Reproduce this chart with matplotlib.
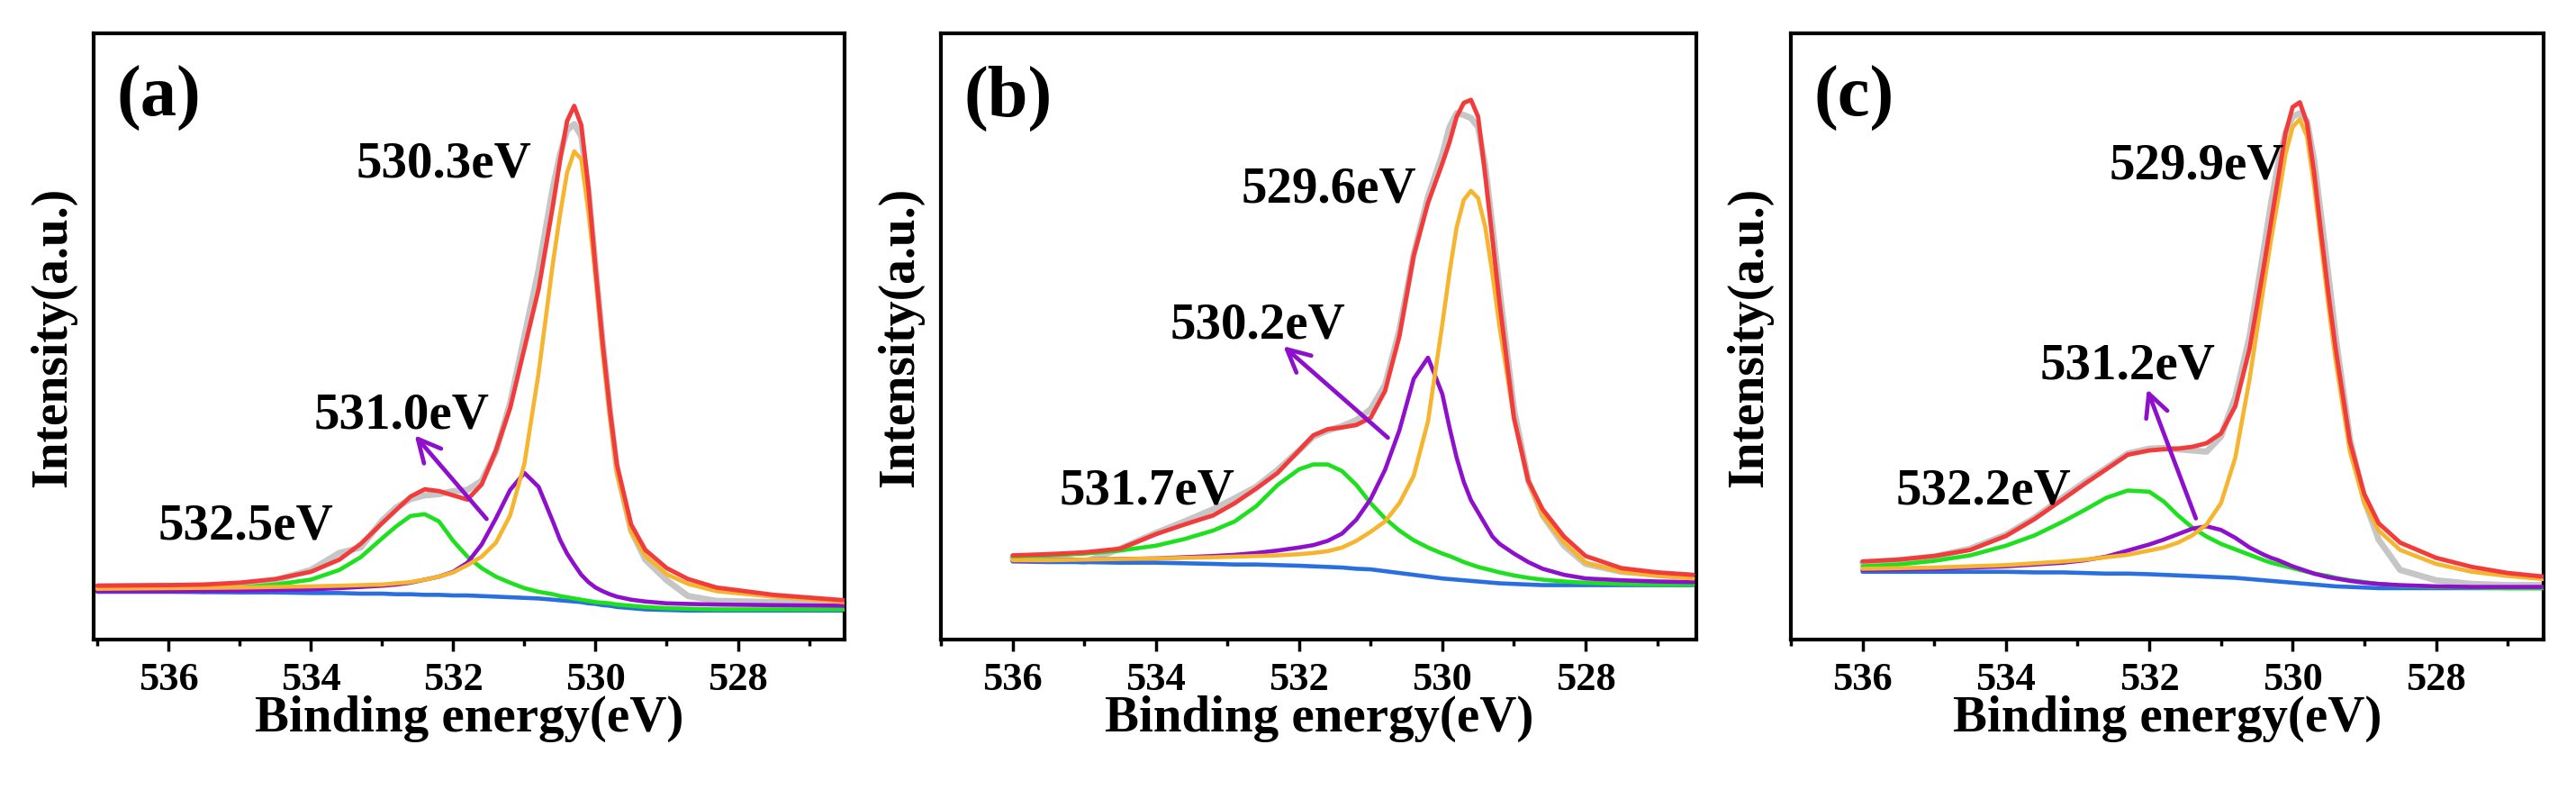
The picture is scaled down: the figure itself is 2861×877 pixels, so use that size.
"""O 1s XPS fits for three samples, recreated as a 1x3 panel figure."""
import matplotlib
matplotlib.use("Agg")
import matplotlib.pyplot as plt

plt.rcParams["font.family"] = ["Liberation Serif", "DejaVu Serif"]
plt.rcParams["font.weight"] = "bold"
plt.rcParams["lines.solid_joinstyle"] = "round"
plt.rcParams["lines.solid_capstyle"] = "round"

# Colours of the fit components.
C_RAW = "#c6c6c6"
C_SUM = "#f23c3c"
C_MAIN = "#f5b52e"
C_MID = "#8e10cc"
C_HIGH = "#1fe01f"
C_BG = "#2a6fe0"

# ---------------- panel (a) ----------------
energy_a = [537.0, 536.0, 535.5, 535.0, 534.5, 534.0, 533.6, 533.3, 533.0, 532.8,
            532.6, 532.4, 532.2, 532.0, 531.8, 531.6, 531.4, 531.2, 531.0, 530.8,
            530.6, 530.5, 530.4, 530.3, 530.2, 530.1, 530.0, 529.9, 529.8, 529.7,
            529.5, 529.3, 529.0, 528.7, 528.3, 527.5, 526.5]
raw_a = [0.088, 0.089, 0.080, 0.090, 0.098, 0.115, 0.143, 0.152, 0.196, 0.218,
         0.232, 0.238, 0.240, 0.245, 0.247, 0.262, 0.310, 0.390, 0.500, 0.610,
         0.745, 0.800, 0.840, 0.850, 0.830, 0.740, 0.615, 0.490, 0.380, 0.280,
         0.180, 0.132, 0.098, 0.072, 0.064, 0.062, 0.060]
envelope_a = [0.089, 0.090, 0.091, 0.094, 0.100, 0.112, 0.132, 0.158, 0.192, 0.214,
              0.236, 0.248, 0.245, 0.238, 0.231, 0.256, 0.312, 0.382, 0.480, 0.578,
              0.715, 0.789, 0.855, 0.880, 0.848, 0.745, 0.612, 0.489, 0.380, 0.289,
              0.190, 0.148, 0.118, 0.100, 0.086, 0.074, 0.065]
peak_main_a = [0.084, 0.085, 0.0855, 0.086, 0.087, 0.088, 0.089, 0.090, 0.091, 0.093,
               0.095, 0.099, 0.104, 0.111, 0.123, 0.137, 0.160, 0.205, 0.290, 0.440,
               0.620, 0.700, 0.770, 0.805, 0.792, 0.705, 0.600, 0.475, 0.370, 0.275,
               0.178, 0.138, 0.108, 0.092, 0.080, 0.071, 0.062]
peak_mid_a = [0.080, 0.080, 0.0805, 0.081, 0.082, 0.083, 0.085, 0.087, 0.089, 0.091,
              0.094, 0.099, 0.104, 0.112, 0.127, 0.157, 0.200, 0.247, 0.275, 0.252,
              0.195, 0.165, 0.142, 0.124, 0.107, 0.095, 0.086, 0.080, 0.075, 0.071,
              0.066, 0.063, 0.060, 0.059, 0.058, 0.057, 0.056]
peak_high_a = [0.081, 0.082, 0.084, 0.086, 0.091, 0.099, 0.115, 0.136, 0.167, 0.187,
               0.204, 0.207, 0.195, 0.163, 0.137, 0.118, 0.104, 0.094, 0.085, 0.079,
               0.075, 0.072, 0.070, 0.068, 0.066, 0.064, 0.062, 0.061, 0.060, 0.058,
               0.056, 0.054, 0.052, 0.051, 0.050, 0.050, 0.050]
background_a = [0.079, 0.079, 0.0785, 0.078, 0.078, 0.077, 0.077, 0.076, 0.076, 0.075,
                0.075, 0.074, 0.074, 0.073, 0.073, 0.072, 0.071, 0.070, 0.069, 0.068,
                0.066, 0.065, 0.064, 0.063, 0.062, 0.060, 0.059, 0.057, 0.056, 0.054,
                0.052, 0.050, 0.049, 0.048, 0.048, 0.048, 0.048]

# ---------------- panel (b) ----------------
energy_b = [536.0, 535.5, 535.0, 534.5, 534.0, 533.6, 533.2, 532.9, 532.6, 532.3,
            532.0, 531.8, 531.6, 531.4, 531.2, 531.0, 530.8, 530.6, 530.4, 530.2,
            530.0, 529.9, 529.8, 529.7, 529.6, 529.5, 529.4, 529.3, 529.2, 529.0,
            528.8, 528.6, 528.3, 528.0, 527.5, 527.0, 526.5]
raw_b = [0.135, 0.138, 0.128, 0.150, 0.176, 0.195, 0.215, 0.233, 0.252, 0.280,
         0.312, 0.335, 0.345, 0.352, 0.362, 0.380, 0.420, 0.510, 0.635, 0.730,
         0.800, 0.845, 0.868, 0.865, 0.860, 0.845, 0.780, 0.680, 0.575, 0.380,
         0.262, 0.205, 0.155, 0.125, 0.112, 0.108, 0.105]
envelope_b = [0.139, 0.141, 0.144, 0.150, 0.174, 0.190, 0.205, 0.225, 0.249, 0.275,
              0.312, 0.337, 0.347, 0.350, 0.354, 0.366, 0.410, 0.500, 0.633, 0.720,
              0.785, 0.820, 0.862, 0.885, 0.890, 0.862, 0.765, 0.660, 0.555, 0.366,
              0.262, 0.215, 0.170, 0.138, 0.118, 0.111, 0.107]
peak_main_b = [0.131, 0.131, 0.132, 0.133, 0.134, 0.135, 0.136, 0.137, 0.138, 0.139,
               0.141, 0.143, 0.146, 0.152, 0.163, 0.178, 0.195, 0.225, 0.270, 0.360,
               0.520, 0.605, 0.680, 0.725, 0.740, 0.728, 0.680, 0.603, 0.515, 0.365,
               0.262, 0.205, 0.160, 0.127, 0.112, 0.105, 0.101]
peak_mid_b = [0.130, 0.131, 0.132, 0.133, 0.134, 0.136, 0.138, 0.140, 0.143, 0.147,
              0.152, 0.156, 0.163, 0.175, 0.198, 0.232, 0.280, 0.345, 0.430, 0.465,
              0.405, 0.350, 0.300, 0.260, 0.230, 0.210, 0.190, 0.170, 0.158, 0.142,
              0.128, 0.117, 0.107, 0.101, 0.098, 0.096, 0.095]
peak_high_b = [0.137, 0.139, 0.142, 0.147, 0.155, 0.166, 0.180, 0.195, 0.220, 0.255,
               0.281, 0.289, 0.289, 0.278, 0.255, 0.225, 0.200, 0.180, 0.164, 0.152,
               0.142, 0.138, 0.133, 0.128, 0.124, 0.120, 0.117, 0.114, 0.111, 0.106,
               0.102, 0.099, 0.096, 0.094, 0.092, 0.091, 0.091]
background_b = [0.129, 0.128, 0.128, 0.127, 0.127, 0.126, 0.125, 0.124, 0.124, 0.123,
                0.122, 0.121, 0.120, 0.119, 0.117, 0.116, 0.113, 0.110, 0.107, 0.104,
                0.101, 0.100, 0.099, 0.098, 0.097, 0.096, 0.095, 0.094, 0.093, 0.092,
                0.091, 0.090, 0.090, 0.090, 0.090, 0.090, 0.090]

# ---------------- panel (c) ----------------
energy_c = [536.0, 535.5, 535.0, 534.5, 534.0, 533.6, 533.2, 532.9, 532.6, 532.3,
            532.0, 531.8, 531.6, 531.4, 531.2, 531.0, 530.8, 530.6, 530.4, 530.3,
            530.2, 530.1, 530.0, 529.9, 529.8, 529.7, 529.6, 529.5, 529.4, 529.2,
            529.0, 528.8, 528.5, 528.0, 527.5, 527.0, 526.5]
raw_c = [0.127, 0.131, 0.137, 0.150, 0.173, 0.201, 0.235, 0.260, 0.283, 0.307,
         0.315, 0.316, 0.314, 0.312, 0.310, 0.335, 0.400, 0.500, 0.645, 0.720,
         0.785, 0.835, 0.862, 0.868, 0.855, 0.790, 0.695, 0.600, 0.500, 0.330,
         0.230, 0.165, 0.115, 0.098, 0.092, 0.090, 0.090]
envelope_c = [0.129, 0.132, 0.138, 0.148, 0.171, 0.199, 0.232, 0.257, 0.281, 0.305,
              0.312, 0.314, 0.315, 0.318, 0.324, 0.340, 0.385, 0.480, 0.617, 0.690,
              0.762, 0.835, 0.878, 0.886, 0.852, 0.770, 0.668, 0.570, 0.480, 0.326,
              0.240, 0.192, 0.160, 0.135, 0.120, 0.110, 0.104]
peak_main_c = [0.117, 0.118, 0.119, 0.121, 0.123, 0.126, 0.129, 0.132, 0.136, 0.140,
               0.147, 0.152, 0.160, 0.172, 0.190, 0.225, 0.300, 0.430, 0.585, 0.660,
               0.728, 0.800, 0.845, 0.858, 0.830, 0.748, 0.650, 0.550, 0.460, 0.310,
               0.225, 0.180, 0.148, 0.125, 0.112, 0.105, 0.100]
peak_mid_c = [0.115, 0.116, 0.117, 0.119, 0.121, 0.124, 0.127, 0.131, 0.137, 0.147,
              0.157, 0.165, 0.174, 0.183, 0.187, 0.181, 0.168, 0.152, 0.140, 0.135,
              0.131, 0.126, 0.121, 0.117, 0.113, 0.109, 0.106, 0.103, 0.101, 0.097,
              0.094, 0.092, 0.090, 0.088, 0.087, 0.087, 0.087]
peak_high_c = [0.121, 0.124, 0.130, 0.139, 0.155, 0.172, 0.195, 0.214, 0.234, 0.246,
               0.244, 0.228, 0.205, 0.185, 0.170, 0.158, 0.149, 0.140, 0.131, 0.127,
               0.124, 0.121, 0.118, 0.115, 0.112, 0.109, 0.107, 0.105, 0.102, 0.098,
               0.095, 0.092, 0.089, 0.087, 0.086, 0.085, 0.085]
background_c = [0.112, 0.112, 0.112, 0.112, 0.112, 0.111, 0.111, 0.110, 0.109, 0.109,
                0.108, 0.107, 0.106, 0.105, 0.104, 0.103, 0.102, 0.100, 0.098, 0.097,
                0.096, 0.095, 0.094, 0.093, 0.092, 0.091, 0.090, 0.089, 0.088, 0.087,
                0.086, 0.085, 0.085, 0.085, 0.085, 0.085, 0.085]

PANELS = [
    {
        "tag": "(a)", "xlim": (537.05, 526.5),
        "energy": energy_a, "raw": raw_a, "sum": envelope_a, "main": peak_main_a,
        "mid": peak_mid_a, "high": peak_high_a, "bg": background_a,
        "labels": [("530.3eV", 533.36, 0.764), ("531.0eV", 533.96, 0.350),
                   ("532.5eV", 536.15, 0.168)],
        "arrow": ((531.53, 0.199), (532.54, 0.337)),
    },
    {
        "tag": "(b)", "xlim": (536.0, 526.45),
        "energy": energy_b, "raw": raw_b, "sum": envelope_b, "main": peak_main_b,
        "mid": peak_mid_b, "high": peak_high_b, "bg": background_b,
        "labels": [("529.6eV", 532.81, 0.722), ("530.2eV", 533.80, 0.499),
                   ("531.7eV", 535.35, 0.225)],
        "arrow": ((530.76, 0.333), (532.22, 0.484)),
    },
    {
        "tag": "(c)", "xlim": (536.0, 526.5),
        "energy": energy_c, "raw": raw_c, "sum": envelope_c, "main": peak_main_c,
        "mid": peak_mid_c, "high": peak_high_c, "bg": background_c,
        "labels": [("529.9eV", 532.56, 0.762), ("531.2eV", 533.53, 0.432),
                   ("532.2eV", 535.53, 0.225)],
        "arrow": ((531.35, 0.200), (532.03, 0.413)),
    },
]

AX_RECTS = [
    [0.0364, 0.19, 0.2915, 0.767],
    [0.3653, 0.19, 0.2933, 0.767],
    [0.6952, 0.19, 0.2922, 0.767],
]

fig = plt.figure(figsize=(28.61, 8.78), dpi=100)

for rect, p in zip(AX_RECTS, PANELS):
    ax = fig.add_axes(rect)
    e = p["energy"]
    ax.plot(e, p["raw"], color=C_RAW, lw=5.0, zorder=1)
    ax.plot(e, p["bg"], color=C_BG, lw=3.3, zorder=2)
    ax.plot(e, p["high"], color=C_HIGH, lw=3.3, zorder=3)
    ax.plot(e, p["mid"], color=C_MID, lw=3.3, zorder=4)
    ax.plot(e, p["main"], color=C_MAIN, lw=3.3, zorder=5)
    ax.plot(e, p["sum"], color=C_SUM, lw=3.5, zorder=6)

    ax.set_xlim(*p["xlim"])
    ax.set_ylim(0, 1)
    ax.set_xticks([536, 534, 532, 530, 528])
    ax.set_xticks([537, 535, 533, 531, 529, 527], minor=True)
    ax.set_yticks([])
    ax.tick_params(axis="x", which="major", direction="out", length=9, width=2.5,
                   labelsize=32, pad=8)
    ax.tick_params(axis="x", which="minor", direction="out", length=5, width=2.5)
    for sp in ax.spines.values():
        sp.set_linewidth(3)

    ax.set_xlabel("Binding energy(eV)", fontsize=41, fontweight="bold", labelpad=-2)
    ax.set_ylabel("Intensity(a.u.)", fontsize=40, fontweight="bold", labelpad=14)

    ax.text(0.03, 0.893, p["tag"], transform=ax.transAxes, fontsize=58,
            fontweight="bold", ha="left", va="center")
    for txt, x, y in p["labels"]:
        ax.text(x, y, txt, fontsize=41, fontweight="bold", ha="left", va="baseline",
                zorder=8)
    tail, head = p["arrow"]
    ax.annotate("", xy=head, xytext=tail,
                arrowprops=dict(arrowstyle="->", color=C_MID, lw=3.4,
                                mutation_scale=45, shrinkA=0, shrinkB=0),
                zorder=7)

fig.savefig("out.png", dpi=100)
